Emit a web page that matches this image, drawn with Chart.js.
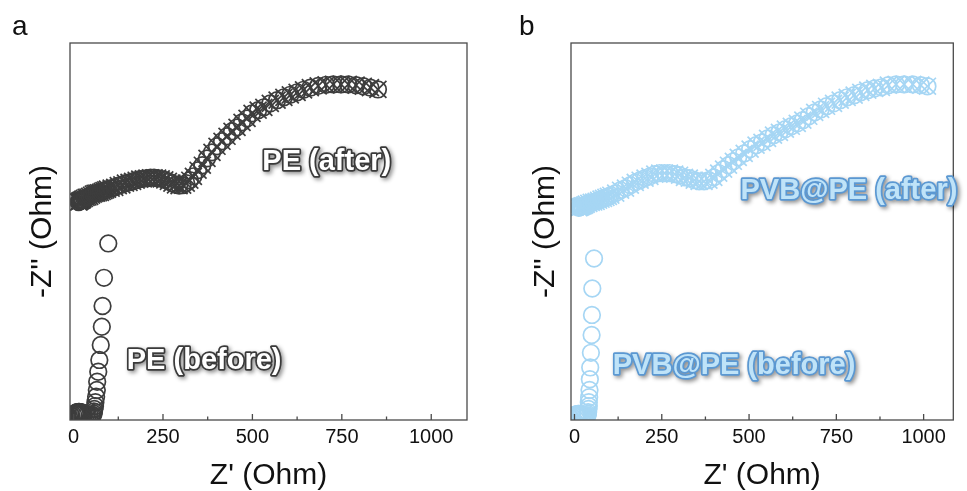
<!DOCTYPE html>
<html>
<head>
<meta charset="utf-8">
<script src="https://cdn.jsdelivr.net/npm/chart.js@4.4.0/dist/chart.umd.min.js"></script>
<style>
  body { margin: 0; background: #fff; }
  #wrap { position: relative; width: 967px; height: 491px; }
  canvas { position: absolute; top: 0; }
</style>
</head>
<body>
<div id="wrap">
  <canvas id="chartA" width="483" height="491" style="left:0"></canvas>
  <canvas id="chartB" width="484" height="491" style="left:483px"></canvas>
</div>
<script>
// Nyquist data, Z' / -Z'' in Ohm
const peBeforeX = [4, 6, 8, 10, 12, 14, 16, 18, 20, 22, 25, 28, 32, 36, 40, 45, 50,
  54, 56, 57, 58, 60, 61, 63, 65, 66, 69, 72, 76, 79, 81, 85, 97]
const peBeforeY = [8, 10, 11, 12, 12, 13, 13, 12, 12, 11, 10, 9, 8, 6, 5, 4, 4,
  4, 8, 14, 21, 29, 40, 55, 74, 97, 125, 158, 200, 251, 309, 388, 484]

const peAfterX = [14, 16, 18, 20, 22, 24, 26, 30, 35, 40, 45, 50, 55, 60, 65, 70, 75, 80, 85, 90,
  95, 105, 115, 125, 135, 145, 155, 165, 175,
  185, 195, 205, 215, 225, 235, 245, 255, 265, 275, 285, 295, 305, 315, 325, 335, 348, 360,
  373, 387, 401, 415, 429, 443, 457, 471, 485, 499, 516, 532, 550, 569, 588, 606, 625, 643,
  662, 684, 706, 726, 748, 768, 790, 810, 830, 851]
const peAfterY = [600, 601, 603, 604, 605, 606, 608, 610, 613, 614, 616, 619, 622, 624, 625, 626, 627, 630, 632, 634,
  636, 639, 641, 646, 648, 653, 655, 658, 661,
  664, 665, 667, 668, 668, 667, 665, 662, 658, 653, 648, 646, 647, 653, 661, 672, 689, 703,
  722, 739, 756, 770, 784, 798, 809, 823, 834, 848, 857, 865, 876, 885, 893, 900, 907, 914,
  920, 925, 928, 929, 929, 929, 927, 924, 920, 915]

const pvbBeforeX = [2, 4, 6, 8, 10, 12, 14, 16, 18, 21, 24, 28, 32, 36,
  37, 38, 39, 40, 41, 41, 42, 43, 44, 45, 47, 49, 50, 51, 56]
const pvbBeforeY = [4, 5, 6, 6, 7, 7, 7, 6, 6, 5, 4, 3, 2, 2,
  3, 7, 12, 21, 29, 40, 54, 74, 104, 137, 178, 228, 284, 358, 442]

const pvbAfterX = [12, 14, 16, 18, 20, 23, 27, 30, 34, 41, 48, 55, 62, 69, 76, 83, 90, 97,
  104, 118, 132, 146, 160, 174, 188, 202, 216, 230, 244, 258,
  272, 287, 301, 315, 329, 343, 357, 371, 385, 399, 413, 427, 441, 455, 469, 486, 503, 520,
  537, 553, 570, 587, 604, 621, 638, 654, 671, 688, 705, 722, 742, 761, 781, 801, 820, 840,
  860, 879, 899, 921, 944, 969, 992, 1011]
const pvbAfterY = [584, 585, 586, 587, 588, 589, 590, 592, 594, 596, 599, 600, 602, 605, 608, 610, 613, 616,
  619, 625, 633, 639, 647, 655, 661, 667, 672, 678, 681, 681,
  681, 678, 675, 669, 667, 661, 658, 658, 661, 669, 681, 692, 703, 714, 725, 736, 748, 759,
  767, 778, 787, 795, 804, 812, 820, 829, 840, 851, 859, 868, 876, 885, 893, 899, 907, 913,
  918, 921, 927, 929, 929, 929, 927, 924]

const xTickStep = 250

const pts = (xs, ys) => xs.map((x, i) => ({ x: x, y: ys[i] }))

const FONT = '"Liberation Sans", Arial, sans-serif'

// frame, inward ticks, axis titles and the outlined series labels
const decor = {
  id: 'decor',
  afterDatasetsDraw(chart, args, o) {
    const { ctx, chartArea: a } = chart
    const x = chart.scales.x
    ctx.save()
    ctx.strokeStyle = '#4a4a4a'
    ctx.lineWidth = 1.3
    ctx.strokeRect(a.left, a.top, a.right - a.left, a.bottom - a.top)

    ctx.beginPath()
    x.ticks.forEach(t => {
      const px = x.getPixelForValue(t.value)
      ctx.moveTo(px, a.bottom); ctx.lineTo(px, a.bottom - 6)
      const mid = t.value + xTickStep / 2
      if (mid < x.max) {
        const pm = x.getPixelForValue(mid)
        ctx.moveTo(pm, a.bottom); ctx.lineTo(pm, a.bottom - 3.5)
      }
    })
    ctx.stroke()

    ctx.fillStyle = '#111'
    ctx.textAlign = 'center'
    ctx.textBaseline = 'middle'
    ctx.font = '30px ' + FONT
    ctx.fillText("Z' (Ohm)", (a.left + a.right) / 2, 476)
    ctx.save()
    ctx.translate(a.left - o.yTitleGap, (a.top + a.bottom) / 2)
    ctx.rotate(-Math.PI / 2)
    ctx.fillText("-Z'' (Ohm)", 0, 0)
    ctx.restore()

    ctx.textAlign = 'left'
    ctx.textBaseline = 'alphabetic'
    ctx.font = '28px ' + FONT
    ctx.fillText(o.letter, o.letterX, 35)

    ctx.font = 'bold 29px ' + FONT
    ctx.textAlign = 'center'
    ctx.lineJoin = 'round'
    o.tags.forEach(tag => {
      const px = x.getPixelForValue(tag.x)
      const py = chart.scales.y.getPixelForValue(tag.y)
      ctx.shadowColor = 'rgba(0,0,0,0.45)'
      ctx.shadowBlur = 4
      ctx.shadowOffsetX = 2
      ctx.shadowOffsetY = 2
      ctx.lineWidth = 3.5
      ctx.strokeStyle = o.tagStroke
      ctx.strokeText(tag.text, px, py)
      ctx.shadowColor = 'transparent'
      ctx.fillStyle = o.tagFill
      ctx.fillText(tag.text, px, py)
    })
    ctx.restore()
  }
}

function nyquist(id, color, before, after, xMax, yAxisWidth, padRight, deco) {
  const base = {
    showLine: false,
    borderColor: color,
    backgroundColor: 'transparent',
    pointBorderWidth: 1.7,
    clip: 0
  }
  return new Chart(document.getElementById(id), {
    type: 'scatter',
    data: {
      datasets: [
        { ...base, data: before, pointStyle: 'circle', pointRadius: 8.3 },
        { ...base, data: after, pointStyle: 'circle', pointRadius: 8.3 },
        { ...base, data: after, pointStyle: 'crossRot', pointRadius: 12 }
      ]
    },
    options: {
      responsive: false,
      animation: false,
      devicePixelRatio: 1,
      layout: { padding: { top: 43, right: padRight, left: 0, bottom: 0 } },
      plugins: { legend: { display: false }, tooltip: { enabled: false }, decor: deco },
      scales: {
        x: {
          type: 'linear',
          min: -10,
          max: xMax,
          grid: { display: false, drawTicks: false },
          border: { display: false },
          ticks: {
            stepSize: xTickStep,
            includeBounds: false,
            autoSkip: false,
            maxRotation: 0,
            padding: 5,
            color: '#111',
            font: { family: FONT, size: 20 },
            callback: v => String(v)
          },
          afterFit: s => { s.height = 71 }
        },
        y: {
          type: 'linear',
          min: -10,
          max: 1045,
          grid: { display: false },
          border: { display: false },
          ticks: { display: false },
          afterFit: s => { s.width = yAxisWidth }
        }
      }
    },
    plugins: [decor]
  })
}

nyquist('chartA', '#3d3d3d', pts(peBeforeX, peBeforeY), pts(peAfterX, peAfterY), 1100, 70, 16, {
  letter: 'a', letterX: 12, yTitleGap: 27,
  tagFill: '#ffffff', tagStroke: '#3a3a3a',
  tags: [{ text: 'PE (after)', x: 708, y: 690 }, { text: 'PE (before)', x: 365, y: 132 }]
})

nyquist('chartB', '#a6d6f4', pts(pvbBeforeX, pvbBeforeY), pts(pvbAfterX, pvbAfterY), 1085, 88, 5, {
  letter: 'b', letterX: 36, yTitleGap: 25,
  tagFill: '#bfe3f8', tagStroke: '#5b98d2',
  tags: [{ text: 'PVB@PE (after)', x: 786, y: 608 }, { text: 'PVB@PE (before)', x: 457, y: 119 }]
})
</script>
</body>
</html>
